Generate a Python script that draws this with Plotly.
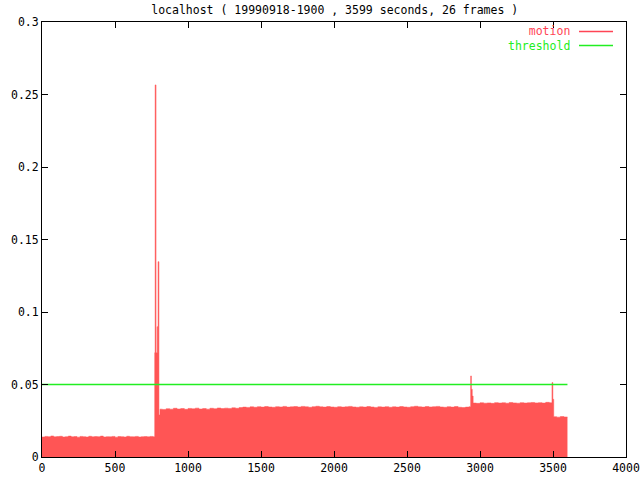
import plotly.graph_objects as go

TITLE = "localhost ( 19990918-1900 , 3599 seconds, 26 frames )"

# motion samples (seconds, value)
seconds_a = [0, 20, 40, 60, 80, 100, 120, 140, 160, 180, 200, 220, 240, 260, 280, 300, 320, 340, 360, 380,
             400, 420, 440, 460, 480, 500, 520, 540, 560, 580, 600, 620, 640, 660, 680, 700, 720, 740, 760]
motion_a = [0.0138, 0.0142, 0.0140, 0.0145, 0.0139, 0.0141, 0.0143, 0.0138, 0.0140, 0.0144, 0.0139, 0.0141, 0.0137,
            0.0142, 0.0140, 0.0138, 0.0143, 0.0139, 0.0141, 0.0140, 0.0144, 0.0138, 0.0140, 0.0139, 0.0142, 0.0137,
            0.0141, 0.0140, 0.0138, 0.0143, 0.0140, 0.0139, 0.0142, 0.0138, 0.0140, 0.0141, 0.0139, 0.0142, 0.0140]

seconds_spike1 = [772, 775, 781, 788, 792, 795, 801, 808]
motion_spike1 = [0.0719, 0.2566, 0.0719, 0.0899, 0.0719, 0.1347, 0.0290, 0.0330]

seconds_b = [825, 850, 875, 900, 925, 950, 975, 1000, 1025, 1050, 1075, 1100, 1125, 1150, 1175, 1200, 1225, 1250,
             1275, 1300, 1325, 1350, 1375, 1400, 1425, 1450, 1475, 1500, 1525, 1550, 1575, 1600, 1625, 1650, 1675,
             1700, 1725, 1750, 1775, 1800, 1825, 1850, 1875, 1900, 1925, 1950, 1975, 2000, 2025, 2050, 2075, 2100,
             2125, 2150, 2175, 2200, 2225, 2250, 2275, 2300, 2325, 2350, 2375, 2400, 2425, 2450, 2475, 2500, 2525,
             2550, 2575, 2600, 2625, 2650, 2675, 2700, 2725, 2750, 2775, 2800, 2825, 2850, 2875, 2900, 2925]
motion_b = [0.0328, 0.0333, 0.0330, 0.0336, 0.0331, 0.0334, 0.0329, 0.0335, 0.0332, 0.0337, 0.0331, 0.0334, 0.0330,
            0.0336, 0.0333, 0.0338, 0.0334, 0.0337, 0.0335, 0.0339, 0.0336, 0.0341, 0.0344, 0.0342, 0.0346, 0.0343,
            0.0347, 0.0344, 0.0348, 0.0345, 0.0343, 0.0347, 0.0345, 0.0349, 0.0344, 0.0346, 0.0348, 0.0345, 0.0349,
            0.0346, 0.0343, 0.0347, 0.0350, 0.0346, 0.0344, 0.0348, 0.0345, 0.0343, 0.0347, 0.0344, 0.0346, 0.0349,
            0.0345, 0.0343, 0.0346, 0.0344, 0.0348, 0.0345, 0.0342, 0.0346, 0.0344, 0.0347, 0.0343, 0.0346, 0.0344,
            0.0348, 0.0345, 0.0343, 0.0347, 0.0350, 0.0346, 0.0344, 0.0348, 0.0345, 0.0347, 0.0349, 0.0345, 0.0343,
            0.0347, 0.0344, 0.0348, 0.0343, 0.0341, 0.0344, 0.0347]

seconds_c = [2936, 2941, 2947, 2953, 2975, 3000, 3025, 3050, 3075, 3100, 3125, 3150, 3175, 3200, 3225, 3250, 3275,
             3300, 3325, 3350, 3375, 3400, 3425, 3450, 3475]
motion_c = [0.0559, 0.0467, 0.0420, 0.0372, 0.0370, 0.0374, 0.0371, 0.0373, 0.0370, 0.0375, 0.0372, 0.0374, 0.0371,
            0.0376, 0.0373, 0.0371, 0.0375, 0.0372, 0.0374, 0.0376, 0.0373, 0.0375, 0.0372, 0.0377, 0.0374]

seconds_d = [3493, 3499, 3505, 3525, 3550, 3575, 3599]
motion_d = [0.0513, 0.0398, 0.0278, 0.0275, 0.0279, 0.0276, 0.0276]

threshold_x = [0, 3599]
threshold_y = [0.05, 0.05]

x_ticks = [0, 500, 1000, 1500, 2000, 2500, 3000, 3500, 4000]
y_ticks = [0, 0.05, 0.1, 0.15, 0.2, 0.25, 0.3]
y_tick_labels = ["0", "0.05", "0.1", "0.15", "0.2", "0.25", "0.3"]

MOTION_COLOR = "#ff5555"
KEY_RED = "#ff4455"
THRESH_COLOR = "#22ee22"
FONT = "DejaVu Sans Mono"
FSIZE = 11.5

seconds = seconds_a + seconds_spike1 + seconds_b + seconds_c + seconds_d
motion = motion_a + motion_spike1 + motion_b + motion_c + motion_d

fig = go.Figure()
fig.add_trace(go.Scatter(
    x=seconds, y=motion, mode="lines", line=dict(color=MOTION_COLOR, width=0.5, shape="hv"),
    fill="tozeroy", fillcolor=MOTION_COLOR, name="motion", showlegend=False, hoverinfo="skip"))
fig.add_trace(go.Scatter(
    x=threshold_x, y=threshold_y, mode="lines", line=dict(color=THRESH_COLOR, width=1.3),
    name="threshold", showlegend=False, hoverinfo="skip"))

axis_common = dict(showgrid=False, zeroline=False, showline=True, linecolor="black", linewidth=1,
                   mirror="ticks", ticks="inside", ticklen=6, tickcolor="black", automargin=False,
                   tickfont=dict(family=FONT, size=FSIZE, color="black"))
fig.update_xaxes(range=[0, 4000], tickvals=x_ticks, **axis_common)
fig.update_yaxes(range=[0, 0.3], tickvals=y_ticks, ticktext=y_tick_labels, **axis_common)

# gnuplot-style key: labels right-aligned, sample lines to their right
key_text = (f'<span style="color:{KEY_RED}">motion</span><br>'
            f'<span style="color:{THRESH_COLOR}">threshold</span>')
fig.add_annotation(x=(570.5 - 42) / 584, y=(457 - 38) / 435, xref="paper", yref="paper", text=key_text,
                   showarrow=False, align="right", xanchor="right", yanchor="middle", borderpad=0,
                   font=dict(family=FONT, size=FSIZE, color="black"))
for color, ypx in [(KEY_RED, 31.5), (THRESH_COLOR, 45.5)]:
    yp = (457 - ypx) / 435
    fig.add_shape(type="line", xref="paper", yref="paper", x0=(579 - 42) / 584, x1=(613 - 42) / 584,
                  y0=yp, y1=yp, line=dict(color=color, width=1.3))

fig.update_layout(
    width=640, height=480,
    margin=dict(l=42, r=14, t=22, b=23, autoexpand=False),
    paper_bgcolor="white", plot_bgcolor="white",
    title=dict(text=TITLE, x=0.523, xanchor="center", y=0.979, yanchor="middle", yref="container",
               font=dict(family=FONT, size=FSIZE, color="black")),
)

fig.write_html("out.html", config={"displayModeBar": False},
               post_script="document.body.style.margin='0';document.body.style.overflow='hidden';")
